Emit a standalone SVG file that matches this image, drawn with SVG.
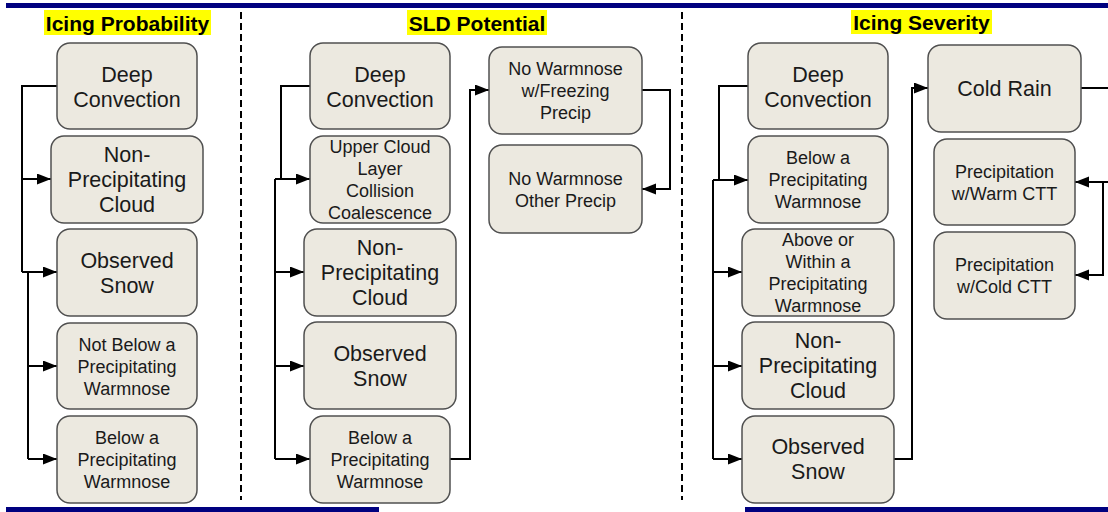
<svg xmlns="http://www.w3.org/2000/svg" width="1108" height="512" viewBox="0 0 1108 512">
<defs>
<marker id="ah" markerUnits="userSpaceOnUse" markerWidth="15" markerHeight="12" refX="14" refY="5.5" orient="auto">
<path d="M0,0 L14,5.5 L0,11 z" fill="#000"/>
</marker>
<style>
.bar{fill:#00007f}
.hl{fill:#ffff00}
.title{font-family:"Liberation Sans",Arial,sans-serif;font-weight:bold;font-size:21px;fill:#000;text-anchor:middle}
.node rect{fill:#ece9e0;stroke:#505050;stroke-width:1.5}
.node text{font-family:"Liberation Sans",Arial,sans-serif;fill:#1a1a1a;text-anchor:middle}
.lg{font-size:21.5px}
.sm{font-size:18px}
.div{stroke:#000;stroke-width:2;stroke-dasharray:7,4;fill:none}
.conn path{stroke:#000;stroke-width:2;fill:none}
.arr{marker-end:url(#ah)}
</style>
</defs>
<rect width="1108" height="512" fill="#fff"/>
<rect class="bar" x="6" y="3" width="1102" height="5"/>
<rect class="bar" x="6" y="507" width="373" height="5"/>
<rect class="bar" x="745" y="507" width="363" height="5"/>
<rect class="hl" x="44" y="10" width="167" height="25"/>
<text class="title" x="127.5" y="31">Icing Probability</text>
<rect class="hl" x="407" y="10" width="140" height="25"/>
<text class="title" x="477" y="31">SLD Potential</text>
<rect class="hl" x="851" y="10" width="141" height="24"/>
<text class="title" x="921.5" y="30">Icing Severity</text>
<line class="div" x1="241" y1="12" x2="241" y2="500"/>
<line class="div" x1="682" y1="12" x2="682" y2="500"/>
<g class="conn">
<path d="M57,86 H22 V272"/>
<path class="arr" d="M22,179 H51"/>
<path class="arr" d="M22,272 H57"/>
<path d="M28,272 V459"/>
<path class="arr" d="M28,366 H57"/>
<path class="arr" d="M28,459 H57"/>
<path d="M310,86 H281 V179"/>
<path class="arr" d="M275,179 H310"/>
<path d="M275,179 V459"/>
<path class="arr" d="M275,272 H304"/>
<path class="arr" d="M275,366 H304"/>
<path class="arr" d="M275,459 H310"/>
<path class="arr" d="M450,459 H470 V90 H489"/>
<path class="arr" d="M642,90 H670 V189 H642"/>
<path d="M748,86 H719 V180"/>
<path class="arr" d="M713,180 H748"/>
<path d="M713,180 V459"/>
<path class="arr" d="M713,272 H742"/>
<path class="arr" d="M713,366 H742"/>
<path class="arr" d="M713,459 H742"/>
<path class="arr" d="M894,459 H912 V88 H928"/>
<path d="M1081,88 H1108"/>
<path class="arr" d="M1108,182 H1075"/>
<path class="arr" d="M1103,182 V275 H1075"/>
</g>
<g id="ip-deep" class="node"><rect x="57" y="43" width="140" height="86" rx="13"/><text class="lg" x="127" y="81.5">Deep</text><text class="lg" x="127" y="106.5">Convection</text></g>
<g id="ip-nonprecip" class="node"><rect x="51" y="136" width="152" height="87" rx="13"/><text class="lg" x="127" y="162">Non-</text><text class="lg" x="127" y="187">Precipitating</text><text class="lg" x="127" y="212">Cloud</text></g>
<g id="ip-snow" class="node"><rect x="57" y="229" width="140" height="87" rx="13"/><text class="lg" x="127" y="267.5">Observed</text><text class="lg" x="127" y="292.5">Snow</text></g>
<g id="ip-notbelow" class="node"><rect x="57" y="323" width="140" height="86" rx="13"/><text class="sm" x="127" y="350.5">Not Below a</text><text class="sm" x="127" y="372.5">Precipitating</text><text class="sm" x="127" y="394.5">Warmnose</text></g>
<g id="ip-below" class="node"><rect x="57" y="416" width="140" height="87" rx="13"/><text class="sm" x="127" y="443.5">Below a</text><text class="sm" x="127" y="465.5">Precipitating</text><text class="sm" x="127" y="487.5">Warmnose</text></g>
<g id="sld-deep" class="node"><rect x="310" y="43" width="140" height="86" rx="13"/><text class="lg" x="380" y="81.5">Deep</text><text class="lg" x="380" y="106.5">Convection</text></g>
<g id="sld-upper" class="node"><rect x="310" y="136" width="140" height="87" rx="13"/><text class="sm" x="380" y="153">Upper Cloud</text><text class="sm" x="380" y="175">Layer</text><text class="sm" x="380" y="197">Collision</text><text class="sm" x="380" y="219">Coalescence</text></g>
<g id="sld-nonprecip" class="node"><rect x="304" y="229" width="152" height="87" rx="13"/><text class="lg" x="380" y="255">Non-</text><text class="lg" x="380" y="280">Precipitating</text><text class="lg" x="380" y="305">Cloud</text></g>
<g id="sld-snow" class="node"><rect x="304" y="322" width="152" height="87" rx="13"/><text class="lg" x="380" y="360.5">Observed</text><text class="lg" x="380" y="385.5">Snow</text></g>
<g id="sld-below" class="node"><rect x="310" y="416" width="140" height="87" rx="13"/><text class="sm" x="380" y="443.5">Below a</text><text class="sm" x="380" y="465.5">Precipitating</text><text class="sm" x="380" y="487.5">Warmnose</text></g>
<g id="sld-nwfz" class="node"><rect x="489" y="47" width="153" height="87" rx="13"/><text class="sm" x="565.5" y="75">No Warmnose</text><text class="sm" x="565.5" y="97">w/Freezing</text><text class="sm" x="565.5" y="119">Precip</text></g>
<g id="sld-nwother" class="node"><rect x="489" y="145" width="153" height="88" rx="13"/><text class="sm" x="565.5" y="184.5">No Warmnose</text><text class="sm" x="565.5" y="206.5">Other Precip</text></g>
<g id="is-deep" class="node"><rect x="748" y="43" width="140" height="86" rx="13"/><text class="lg" x="818" y="81.5">Deep</text><text class="lg" x="818" y="106.5">Convection</text></g>
<g id="is-below" class="node"><rect x="748" y="136" width="140" height="87" rx="13"/><text class="sm" x="818" y="164">Below a</text><text class="sm" x="818" y="186">Precipitating</text><text class="sm" x="818" y="208">Warmnose</text></g>
<g id="is-above" class="node"><rect x="742" y="229" width="152" height="87" rx="13"/><text class="sm" x="818" y="246">Above or</text><text class="sm" x="818" y="268">Within a</text><text class="sm" x="818" y="290">Precipitating</text><text class="sm" x="818" y="312">Warmnose</text></g>
<g id="is-nonprecip" class="node"><rect x="742" y="322" width="152" height="87" rx="13"/><text class="lg" x="818" y="348">Non-</text><text class="lg" x="818" y="373">Precipitating</text><text class="lg" x="818" y="398">Cloud</text></g>
<g id="is-snow" class="node"><rect x="742" y="416" width="152" height="87" rx="13"/><text class="lg" x="818" y="454">Observed</text><text class="lg" x="818" y="479">Snow</text></g>
<g id="is-coldrain" class="node"><rect x="928" y="45" width="153" height="87" rx="13"/><text class="lg" x="1004.5" y="96">Cold Rain</text></g>
<g id="is-warmctt" class="node"><rect x="934" y="139" width="141" height="86" rx="13"/><text class="sm" x="1004.5" y="177.5">Precipitation</text><text class="sm" x="1004.5" y="199.5">w/Warm CTT</text></g>
<g id="is-coldctt" class="node"><rect x="934" y="232" width="141" height="87" rx="13"/><text class="sm" x="1004.5" y="271">Precipitation</text><text class="sm" x="1004.5" y="293">w/Cold CTT</text></g>
</svg>
